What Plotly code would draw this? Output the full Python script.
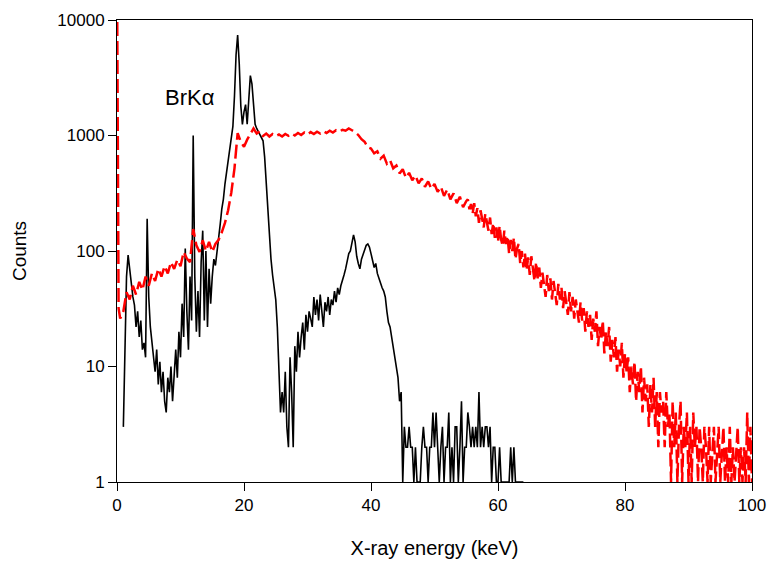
import numpy as np
import plotly.graph_objects as go

# ---- black spectrum: counts every 0.25 keV starting at 1.0 keV ----
black_start_keV = 1.0
black_step_keV = 0.25
black_counts = [
    3, 20, 60, 92,
    70, 48, 40, 34,
    22, 30, 18, 25,
    14, 16, 12, 190,
    40, 22, 16, 12,
    9, 14, 7, 11,
    6, 9, 5, 4,
    8, 6, 10, 5,
    9, 14, 8, 20,
    12, 35, 18, 105,
    30, 14, 60, 25,
    1000, 60, 20, 45,
    18, 80, 150, 25,
    100, 22, 70, 35,
    60, 85, 75, 95,
    130, 170, 230, 280,
    380, 480, 620, 780,
    950, 1200, 2200, 5000,
    7400, 4200, 1800, 1250,
    1600, 1850, 1250, 1900,
    3300, 2800, 1700, 1250,
    1150, 1080, 1020, 980,
    900, 650, 380, 220,
    140, 85, 62, 45,
    38, 22, 9, 4,
    6, 4, 9, 3,
    2, 12, 6, 2,
    15, 9, 20, 12,
    18, 24, 14, 28,
    20, 30, 26, 22,
    40, 28, 38, 25,
    42, 30, 22, 36,
    30, 40, 28, 38,
    34, 45, 36, 48,
    42, 50, 55, 62,
    70, 82, 95, 100,
    115, 138, 120, 90,
    78, 70, 85, 92,
    100, 112, 115, 108,
    95, 80, 72, 78,
    64, 58, 52, 48,
    45, 40, 30, 24,
    22, 18, 14, 12,
    10, 8, 5, 6,
    1, 3, 2, 2,
    3, 2, 2, 1,
    2, 1, 1, 1,
    2, 3, 2, 2,
    1, 2, 2, 4,
    2, 4, 2, 1,
    2, 3, 1, 2,
    2, 4, 1, 2,
    1, 3, 3, 1,
    2, 5, 1, 2,
    2, 4, 3, 2,
    3, 2, 3, 2,
    6, 2, 3, 2,
    3, 3, 2, 3,
    1, 2, 2, 1,
    1, 2, 1, 1,
    1, 1, 1, 1,
    2, 1, 2, 1,
    1, 1, 1, 1,
    1,
]

# ---- red spectrum ----
red_first_keV = [0.0, 0.25]
red_first_counts = [30000, 32]
# every 0.5 keV from 0.5 to 55.0 keV
red_low_counts = [
    26, 30, 44, 38, 50, 42, 54, 46, 60, 50,
    64, 55, 70, 60, 74, 64, 80, 70, 84, 74,
    98, 86, 80, 155, 112, 98, 124, 100, 120, 98,
    115, 125, 145, 175, 225, 320, 520, 1050, 880, 800,
    920, 1020, 1150, 1040, 1090, 990, 1040, 980, 1030, 990,
    1020, 980, 1030, 995, 1040, 1000, 1050, 1010, 1060, 1020,
    1070, 1030, 1080, 1040, 1090, 1050, 1100, 1060, 1110, 1080,
    1120, 1100, 1150, 1110, 1070, 1010, 930, 880, 790, 770,
    700, 730, 630, 670, 570, 610, 520, 550, 470, 510,
    430, 475, 410, 450, 385, 425, 360, 400, 345, 380,
    325, 360, 300, 340, 280, 315, 260, 295, 240, 270,
]
# every 0.25 keV from 55.25 to 100.0 keV
red_high_counts = [
    280, 230, 255, 210,
    260, 200, 235, 175,
    225, 190, 160, 210,
    180, 150, 195, 140,
    175, 130, 160, 120,
    165, 125, 110, 150,
    115, 135, 95, 125,
    100, 130, 85, 105,
    115, 78, 100, 72,
    95, 68, 88, 62,
    90, 70, 55, 80,
    58, 72, 48, 65,
    52, 40, 62, 45,
    58, 38, 55, 42,
    34, 52, 38, 48,
    32, 45, 36, 28,
    44, 30, 40, 26,
    38, 30, 24, 36,
    25, 32, 20, 30,
    22, 28, 17, 26,
    20, 30, 15, 22,
    17, 25, 13, 20,
    15, 22, 11, 17,
    12, 18, 9, 14,
    10, 16, 8, 13,
    9, 12, 6, 10,
    7, 11, 5, 9,
    6, 10, 4, 8,
    5, 7, 3, 7,
    4, 8, 3, 6,
    2, 6, 4, 5,
    2, 6, 3, 4,
    1, 5, 2, 4,
    1, 3, 5, 1,
    3, 2, 4, 1,
    3, 1, 4, 2,
    3, 1, 3, 2,
    1, 3, 2, 1,
    3, 1, 2, 3,
    1, 2, 3, 1,
    2, 3, 1, 2,
    1, 3, 1, 2,
    1, 2, 3, 1,
    2, 1, 2, 1,
    4, 1, 3, 1,
]

x_ticks = [0, 20, 40, 60, 80, 100]
y_ticks = [1, 10, 100, 1000, 10000]
y_tick_labels = ["1", "10", "100", "1000", "10000"]

black_keV = black_start_keV + black_step_keV * np.arange(len(black_counts))
red_keV = np.concatenate([
    red_first_keV,
    0.5 + 0.5 * np.arange(len(red_low_counts)),
    55.25 + 0.25 * np.arange(len(red_high_counts)),
])
red_counts = red_first_counts + red_low_counts + red_high_counts

FONT = "Liberation Sans, Arial, sans-serif"

fig = go.Figure()
fig.add_trace(go.Scatter(x=black_keV, y=black_counts, mode="lines",
                         line=dict(color="black", width=1.6), showlegend=False))
fig.add_trace(go.Scatter(x=red_keV, y=red_counts, mode="lines",
                         line=dict(color="#ff0000", width=2.5, dash="14px,5px"),
                         showlegend=False))

fig.add_annotation(x=11.5, y=np.log10(2140), text="BrK\u03b1", showarrow=False,
                   font=dict(family=FONT, size=22, color="black"))

fig.update_layout(
    width=770, height=561,
    margin=dict(l=117, r=18, t=20, b=79, autoexpand=False),
    paper_bgcolor="white", plot_bgcolor="white",
    font=dict(family=FONT, size=17, color="black"),
)
fig.update_xaxes(range=[0, 100], tickvals=x_ticks, ticks="outside", ticklen=8,
                 tickcolor="black", showline=True, linecolor="black", linewidth=1,
                 mirror=True, showgrid=False, zeroline=False, automargin=False,
                 title=dict(text="X-ray energy (keV)", font=dict(size=20), standoff=26))
fig.update_yaxes(type="log", range=[0, 4], tickvals=y_ticks, ticktext=y_tick_labels,
                 ticks="outside", ticklen=8, tickcolor="black", showline=True,
                 linecolor="black", linewidth=1, mirror=True, showgrid=False,
                 zeroline=False, automargin=False,
                 title=dict(text="Counts", font=dict(size=19), standoff=25))

fig.write_html("out.html")
